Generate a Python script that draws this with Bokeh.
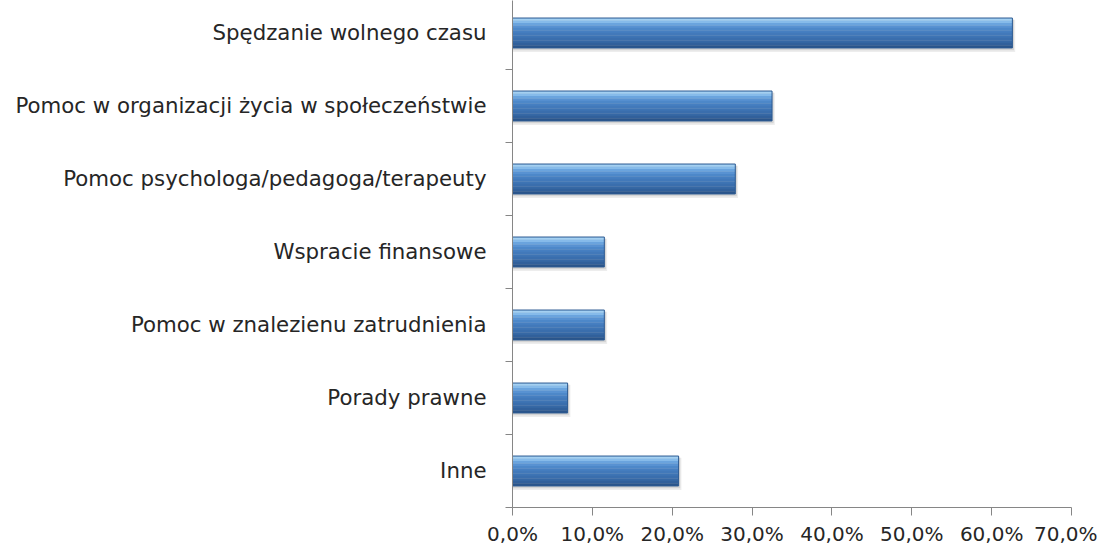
from bokeh.plotting import figure
from bokeh.models import Range1d, FixedTicker
from bokeh.embed import file_html
from bokeh.resources import INLINE

categories = [
    "Spędzanie wolnego czasu",
    "Pomoc w organizacji życia w społeczeństwie",
    "Pomoc psychologa/pedagoga/terapeuty",
    "Wspracie finansowe",
    "Pomoc w znalezienu zatrudnienia",
    "Porady prawne",
    "Inne",
]
values = [62.6, 32.5, 27.9, 11.5, 11.5, 6.9, 20.8]
x_ticks = [0, 10, 20, 30, 40, 50, 60, 70]
x_tick_labels = ["0,0%", "10,0%", "20,0%", "30,0%", "40,0%", "50,0%", "60,0%", "70,0%"]

n = len(categories)
ypos = [n - 1 - i for i in range(n)]

FONT = "DejaVu Sans"
p = figure(width=1097, height=548, output_backend="svg", toolbar_location=None,
           x_range=Range1d(0, 70), y_range=Range1d(-0.5, 6.445),
           min_border_left=512, min_border_right=26, min_border_top=0,
           min_border_bottom=41)
p.outline_line_color = None
p.grid.grid_line_color = None
p.background_fill_color = "white"

bar_h = 0.41
# soft shadow
p.hbar(y=[y - 0.04 for y in ypos], left=0, right=[v + 0.35 for v in values],
       height=bar_h + 0.03, fill_color="#000000", fill_alpha=0.07, line_color=None)
p.hbar(y=[y - 0.025 for y in ypos], left=0, right=[v + 0.2 for v in values],
       height=bar_h + 0.01, fill_color="#000000", fill_alpha=0.10, line_color=None)

colors = ["#a3d0f2", "#86bbea", "#6aa4de", "#5892d2", "#4d88c9", "#467fc1",
          "#4279ba", "#3e74b4", "#3a6ead", "#3668a5", "#31609b", "#2a558b"]
N = len(colors)
for k, c in enumerate(colors):
    p.hbar(y=[y + bar_h / 2 - (k + 0.5) * bar_h / N for y in ypos], left=0,
           right=values, height=bar_h / N * 1.1, fill_color=c, line_color=None)
p.hbar(y=ypos, left=0, right=values, height=bar_h, fill_color=None,
       line_color="#2c5a92", line_width=1)

# x axis
xa = p.xaxis[0]
xa.ticker = FixedTicker(ticks=x_ticks, minor_ticks=[])
xa.major_label_overrides = {t: l for t, l in zip(x_ticks, x_tick_labels)}
xa.axis_line_color = "#868686"
xa.major_tick_line_color = "#868686"
xa.major_tick_in = 0
xa.major_tick_out = 8
xa.minor_tick_line_color = None
xa.major_label_standoff = 6
xa.major_label_text_font = FONT
xa.major_label_text_font_size = "20px"
xa.major_label_text_color = "#262626"

# y axis
ya = p.yaxis[0]
ya.ticker = FixedTicker(ticks=ypos, minor_ticks=[y - 0.5 for y in ypos] + [n - 0.5])
ya.major_label_overrides = {y: c for y, c in zip(ypos, categories)}
ya.axis_line_color = "#868686"
ya.major_tick_line_color = None
ya.major_tick_in = 0
ya.major_tick_out = 0
ya.minor_tick_line_color = "#868686"
ya.minor_tick_in = 0
ya.minor_tick_out = 7
ya.major_label_standoff = 19
ya.major_label_text_font = FONT
ya.major_label_text_font_size = "21.3px"
ya.major_label_text_color = "#262626"

open("out.html", "w").write(file_html(p, INLINE))
